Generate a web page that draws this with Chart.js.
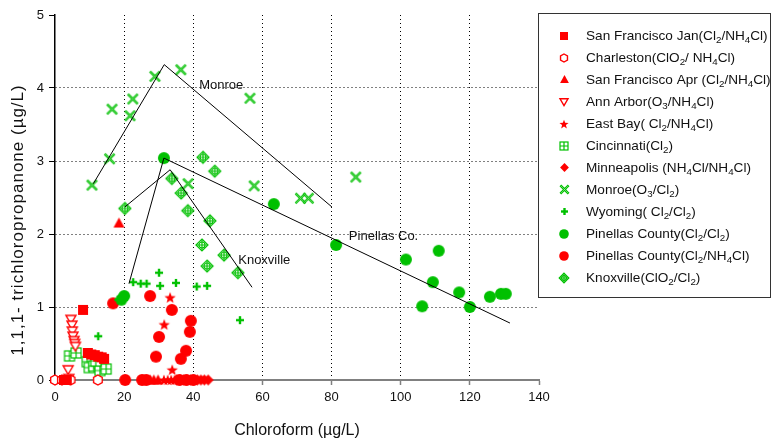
<!DOCTYPE html>
<html><head><meta charset="utf-8">
<script src="https://cdn.jsdelivr.net/npm/chart.js@4.4.1/dist/chart.umd.min.js"></script>
<style>html,body{margin:0;padding:0;background:#fff;overflow:hidden}canvas{display:block}</style>
</head><body>
<canvas id="c" width="773" height="443"></canvas>
<script>
// ---- data (Chloroform µg/L, 1,1,1-trichloropropanone µg/L) ----
const sfJan = [[8.1,0.96],[9.5,0.37],[10.5,0.35],[11.5,0.34],[12.5,0.32],[13.5,0.31],[14.2,0.29],[2.6,0],[3.4,0]];
const charleston = [[0,0],[2,0],[4.5,0],[12.4,0]];
const sfApr = [[18.5,2.15],[27.5,0],[28.6,0],[29.8,0]];
const annArbor = [[4.6,0.83],[4.9,0.75],[5.0,0.67],[5.2,0.6],[5.5,0.54],[5.7,0.5],[5.9,0.46],[3.8,0.14],[4.0,0.02]];
const eastBay = [[33.3,1.13],[31.6,0.76],[33.9,0.14],[31.5,0],[32.6,0],[33.6,0],[34.6,0]];
const cincinnati = [[4.2,0.33],[6.1,0.37],[9.3,0.25],[9.9,0.17],[11.2,0.19],[12.8,0.22],[13.0,0.13],[14.8,0.15],[11.8,0.26]];
const minneapolis = [[35.2,0],[36.2,0],[37.2,0],[38.2,0],[39.2,0],[40.2,0],[41.2,0],[42.2,0],[43.2,0],[44.3,0]];
const monroe = [[10.7,2.67],[15.8,3.03],[16.5,3.71],[21.7,3.62],[22.5,3.85],[28.9,4.16],[36.4,4.25],[38.5,2.69],[56.4,3.86],[57.6,2.66],[71.0,2.49],[73.3,2.49],[87.0,2.78]];
const wyoming = [[12.5,0.6],[18.3,1.1],[22.6,1.34],[24.8,1.32],[26.5,1.32],[30.1,1.47],[30.4,1.29],[35.0,1.33],[41.0,1.28],[44.0,1.29],[53.5,0.82]];
const pinellasCl2 = [[19.2,1.1],[20.0,1.15],[31.5,3.04],[63.3,2.41],[81.3,1.85],[101.5,1.65],[111.0,1.77],[109.3,1.34],[106.2,1.01],[116.9,1.2],[120.0,1.0],[125.8,1.14],[129.0,1.18],[130.4,1.18]];
const pinellasNH4Cl = [[16.8,1.05],[27.5,1.15],[33.8,0.96],[39.3,0.81],[39.0,0.66],[30.1,0.59],[37.9,0.4],[36.4,0.29],[29.2,0.32],[20.3,0],[25.2,0],[26.4,0],[36.0,0],[38.0,0],[40.0,0]];
const knoxville = [[20.2,2.35],[33.8,2.76],[36.5,2.56],[38.4,2.32],[42.8,3.05],[46.2,2.86],[44.8,2.18],[42.5,1.85],[48.9,1.71],[44.0,1.56],[52.9,1.47]];

const monroeTrend = [[11.1,2.69],[31.6,4.32],[80.1,2.37]];
const pinellasTrend = [[21.4,1.32],[31.5,3.04],[131.6,0.78]];
const knoxvilleTrend = [[20.2,2.37],[33.3,2.88],[57.0,1.27]];

const trendNames = ['Monroe','Pinellas Co.','Knoxville'];
const trendNameAt = [[41.7,4.03],[85.0,1.96],[53.0,1.64]];

// "_x" marks a subscript character
const seriesNames = [
  'San Francisco Jan(Cl_2/NH_4Cl)',
  'Charleston(ClO_2/ NH_4Cl)',
  'San Francisco Apr (Cl_2/NH_4Cl)',
  'Ann Arbor(O_3/NH_4Cl)',
  'East Bay( Cl_2/NH_4Cl)',
  'Cincinnati(Cl_2)',
  'Minneapolis (NH_4Cl/NH_4Cl)',
  'Monroe(O_3/Cl_2)',
  'Wyoming( Cl_2/Cl_2)',
  'Pinellas County(Cl_2/Cl_2)',
  'Pinellas County(Cl_2/NH_4Cl)',
  'Knoxville(ClO_2/Cl_2)'
];
const xTitle = 'Chloroform (\u00b5g/L)';
const yTitle = '1,1,1- trichloropropanone (\u00b5g/L)';

// ---- styling ----
const RED = '#FF0000', GREEN = '#00C000';
const FONT = '"Liberation Sans", Arial, sans-serif';

function marker(type, size, color) {
  const pad = 3;
  const s = Math.round(size + pad * 2);
  const cv = document.createElement('canvas');
  cv.width = s; cv.height = s;
  const g = cv.getContext('2d');
  const c = s / 2, r = size / 2;
  g.fillStyle = color; g.strokeStyle = color; g.lineWidth = 1.3;
  const poly = (pts) => { g.beginPath(); pts.forEach((p, i) => i ? g.lineTo(c + p[0], c + p[1]) : g.moveTo(c + p[0], c + p[1])); g.closePath(); };
  switch (type) {
    case 'square': g.fillRect(c - r, c - r, 2 * r, 2 * r); break;
    case 'hexagon': {
      const pts = []; for (let k = 0; k < 6; k++) { const a = (-90 + 60 * k) * Math.PI / 180; pts.push([r * Math.cos(a), r * Math.sin(a)]); }
      poly(pts); g.fillStyle = '#fff'; g.fill(); g.lineWidth = 1.4; g.stroke(); break; }
    case 'triUp': poly([[0, -r], [r, r * 0.8], [-r, r * 0.8]]); g.fill(); break;
    case 'triDown': poly([[0, r * 0.9], [r, -r * 0.8], [-r, -r * 0.8]]); g.fillStyle = '#fff'; g.fill(); g.lineWidth = 1.4; g.stroke(); break;
    case 'star': {
      const pts = []; for (let k = 0; k < 10; k++) { const a = (-90 + 36 * k) * Math.PI / 180; const rr = k % 2 ? r * 0.42 : r; pts.push([rr * Math.cos(a), rr * Math.sin(a) + 0.5]); }
      poly(pts); g.fill(); break; }
    case 'boxgrid':
      g.fillStyle = '#fff'; g.fillRect(c - r, c - r, 2 * r, 2 * r);
      g.lineWidth = 1.2;
      g.strokeRect(c - r, c - r, 2 * r, 2 * r);
      g.beginPath(); g.moveTo(c, c - r); g.lineTo(c, c + r); g.moveTo(c - r, c); g.lineTo(c + r, c); g.stroke(); break;
    case 'diamond': poly([[0, -r], [r, 0], [0, r], [-r, 0]]); g.fill(); break;
    case 'xcross':
      g.lineWidth = 2.4; g.lineCap = 'square';
      g.beginPath(); const q = r * 0.75;
      g.moveTo(c - q, c - q); g.lineTo(c + q, c + q); g.moveTo(c + q, c - q); g.lineTo(c - q, c + q); g.stroke();
      g.strokeStyle = 'rgba(255,255,255,0.55)'; g.lineWidth = 0.7;
      g.beginPath(); g.moveTo(c - q, c - q); g.lineTo(c + q, c + q); g.moveTo(c + q, c - q); g.lineTo(c - q, c + q); g.stroke(); break;
    case 'plus': {
      const w = 2.4; g.fillRect(c - w / 2, c - r, w, 2 * r); g.fillRect(c - r, c - w / 2, 2 * r, w); break; }
    case 'circle': g.beginPath(); g.arc(c, c, r, 0, Math.PI * 2); g.fill(); break;
    case 'diamondCross':
      poly([[0, -r], [r, 0], [0, r], [-r, 0]]); g.fillStyle = '#fff'; g.fill(); g.lineWidth = 1.2; g.stroke();
      g.beginPath(); g.arc(c, c, r * 0.5, 0, Math.PI * 2); g.stroke();
      g.beginPath(); g.moveTo(c, c - r); g.lineTo(c, c + r); g.moveTo(c - r, c); g.lineTo(c + r, c); g.stroke(); break;
  }
  return cv;
}

const seriesData = [sfJan, charleston, sfApr, annArbor, eastBay, cincinnati, minneapolis, monroe, wyoming, pinellasCl2, pinellasNH4Cl, knoxville];
const seriesStyle = [
  ['square', 10, RED], ['hexagon', 10, RED], ['triUp', 11, RED], ['triDown', 10, RED], ['star', 12, RED],
  ['boxgrid', 10, GREEN], ['diamond', 11, RED], ['xcross', 11, GREEN], ['plus', 8, GREEN],
  ['circle', 12, GREEN], ['circle', 12, RED], ['diamondCross', 12, GREEN]
];
const plotMarkers = seriesStyle.map(s => marker(s[0], s[1], s[2]));
const legendMarkers = seriesStyle.map(s => marker(s[0], Math.max(7, s[1] * 0.8), s[2]));

const toXY = arr => arr.map(p => ({x: p[0], y: p[1]}));
const trendSets = [monroeTrend, pinellasTrend, knoxvilleTrend].map(t => ({
  data: toXY(t), showLine: true, borderColor: '#000', borderWidth: 1, pointRadius: 0, fill: false, clip: false
}));
const pointSets = seriesData.map((d, i) => ({
  label: seriesNames[i], data: toXY(d), showLine: false, pointStyle: plotMarkers[i], pointRadius: 6, clip: false
}));

function drawRich(ctx, str, x, y, size) {
  const runs = [];
  for (let i = 0; i < str.length; i++) {
    if (str[i] === '_') { runs.push({t: str[i + 1], sub: true}); i++; }
    else if (runs.length && !runs[runs.length - 1].sub) runs[runs.length - 1].t += str[i];
    else runs.push({t: str[i], sub: false});
  }
  let cx = x;
  ctx.textBaseline = 'alphabetic'; ctx.textAlign = 'left';
  runs.forEach(r => {
    const fs = r.sub ? size * 0.72 : size;
    ctx.font = fs + 'px ' + FONT;
    ctx.fillText(r.t, cx, r.sub ? y + size * 0.28 : y);
    cx += ctx.measureText(r.t).width;
  });
}

const extras = {
  id: 'extras',
  afterDraw(chart) {
    const ctx = chart.ctx, xs = chart.scales.x, ys = chart.scales.y;
    ctx.save();
    ctx.fillStyle = '#111';
    // trend labels
    ctx.font = '13px ' + FONT; ctx.textBaseline = 'middle'; ctx.textAlign = 'left';
    trendNames.forEach((n, i) => ctx.fillText(n, xs.getPixelForValue(trendNameAt[i][0]), ys.getPixelForValue(trendNameAt[i][1])));
    // axis titles
    ctx.font = '16px ' + FONT; ctx.textAlign = 'center'; ctx.textBaseline = 'middle';
    ctx.fillText(xTitle, (chart.chartArea.left + chart.chartArea.right) / 2, 431);
    ctx.save(); ctx.translate(18, 220); ctx.rotate(-Math.PI / 2);
    ctx.font = '17px ' + FONT;
    try { ctx.letterSpacing = '1px'; } catch (e) {}
    ctx.fillText(yTitle, 0, 0);
    ctx.restore();
    // legend box
    const bx = 538.5, by = 13.5, bw = 232, bh = 284;
    ctx.strokeStyle = '#333'; ctx.lineWidth = 1;
    ctx.strokeRect(bx, by, bw, bh);
    seriesNames.forEach((n, i) => {
      const cy = 35.5 + 22 * i;
      const m = legendMarkers[i];
      ctx.drawImage(m, Math.round(564 - m.width / 2), Math.round(cy - m.height / 2));
      ctx.fillStyle = '#111';
      drawRich(ctx, n, 586, cy + 4, 13.6);
    });
    ctx.restore();
  }
};

new Chart(document.getElementById('c'), {
  type: 'scatter',
  data: { datasets: [...trendSets, ...pointSets] },
  options: {
    responsive: false, animation: false, events: [],
    layout: { padding: { left: 0, right: 234, top: 15, bottom: 0 } },
    plugins: { legend: { display: false }, tooltip: { enabled: false } },
    scales: {
      x: {
        type: 'linear', min: 0, max: 140,
        afterFit(s) { s.height = 63; },
        ticks: { stepSize: 20, color: '#111', font: { size: 13, family: FONT }, padding: 5, maxRotation: 0 },
        grid: {
          color: c => (c.tick && (c.tick.value === 0 || c.tick.value === 140)) ? 'rgba(0,0,0,0)' : '#000',
          lineWidth: 1, drawTicks: true, tickLength: 5, tickColor: '#808080', tickWidth: 1.5
        },
        border: { display: true, color: '#808080', width: 2, dash: [1, 3] }
      },
      y: {
        type: 'linear', min: 0, max: 5,
        afterFit(s) { s.width = 55; },
        ticks: { stepSize: 1, color: '#111', font: { size: 13, family: FONT }, padding: 5 },
        grid: {
          color: c => (c.tick && (c.tick.value === 0 || c.tick.value === 5)) ? 'rgba(0,0,0,0)' : '#000',
          lineWidth: 1, drawTicks: true, tickLength: 6, tickColor: '#000', tickWidth: 1
        },
        border: { display: true, color: '#000', width: 1.5, dash: [1, 3] }
      }
    }
  },
  plugins: [extras]
});
</script>
</body></html>
